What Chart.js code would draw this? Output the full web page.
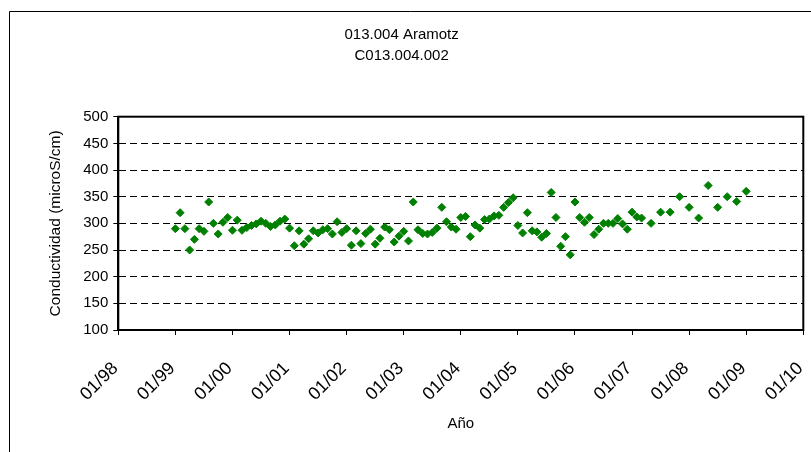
<!DOCTYPE html>
<html><head><meta charset="utf-8">
<script src="https://cdn.jsdelivr.net/npm/chart.js@4/dist/chart.umd.min.js"></script>
<style>html,body{margin:0;padding:0;background:#fff;} canvas{display:block;}</style>
</head><body>
<canvas id="c" width="811" height="452"></canvas>
<script>
const titulo = ['013.004 Aramotz', 'C013.004.002'];
const tituloY = 'Conductividad (microS/cm)';
const tituloX = 'Año';
const etiquetasX = ['01/98','01/99','01/00','01/01','01/02','01/03','01/04','01/05','01/06','01/07','01/08','01/09','01/10'];
const fechas = [
 '01/1999','02/1999','03/1999','04/1999','05/1999','06/1999','07/1999','08/1999','09/1999','10/1999','11/1999','12/1999',
 '01/2000','02/2000','03/2000','04/2000','05/2000','06/2000','07/2000','08/2000','09/2000','10/2000','11/2000','12/2000',
 '01/2001','02/2001','03/2001','04/2001','05/2001','06/2001','07/2001','08/2001','09/2001','10/2001','11/2001','12/2001',
 '01/2002','02/2002','03/2002','04/2002','05/2002','06/2002','07/2002','08/2002','09/2002','10/2002','11/2002','12/2002',
 '01/2003','02/2003','03/2003','04/2003','05/2003','06/2003','07/2003','08/2003','09/2003','10/2003','11/2003','12/2003',
 '01/2004','02/2004','03/2004','04/2004','05/2004','06/2004','07/2004','08/2004','09/2004','10/2004','11/2004','12/2004',
 '01/2005','02/2005','03/2005','04/2005','05/2005','06/2005','07/2005','08/2005','09/2005','10/2005','11/2005','12/2005',
 '01/2006','02/2006','03/2006','04/2006','05/2006','06/2006','07/2006','08/2006','09/2006','10/2006','11/2006','12/2006',
 '01/2007','02/2007','03/2007','05/2007','07/2007','09/2007','11/2007',
 '01/2008','03/2008','05/2008','07/2008','09/2008','11/2008',
 '01/2009'
];
const conductividad = [
 290,320,290,250,270,290,285,340,300,280,302,311,
 287,306,287,292,296,299,304,300,294,297,304,308,
 291,258,286,261,271,286,282,288,290,280,303,283,
 290,259,286,262,281,289,261,272,293,288,265,276,
 285,267,340,288,281,280,283,291,330,303,293,289,
 311,313,275,297,291,307,308,314,315,330,339,348,
 296,282,320,286,284,274,281,358,311,257,275,241,
 340,311,302,311,279,289,300,300,300,309,299,289,
 321,312,310,300,321,321,350,
 330,310,371,330,350,341,
 360
];

const puntos = fechas.map((f, i) => {
  const [mm, yy] = f.split('/');
  return { x: Number(yy) + (Number(mm) - 1) / 12, y: conductividad[i] };
});

Chart.defaults.font.family = "'Liberation Sans', Arial, sans-serif";
Chart.defaults.color = '#000';

const marco = {
  id: 'marco',
  afterDraw(chart) {
    const { ctx, chartArea: a } = chart;
    ctx.save();
    ctx.strokeStyle = '#000';
    ctx.lineWidth = 2;
    ctx.strokeRect(a.left, a.top, a.right - a.left, a.bottom - a.top);
    ctx.lineWidth = 1;
    ctx.beginPath();
    ctx.moveTo(9.5, chart.height);
    ctx.lineTo(9.5, 11.5);
    ctx.lineTo(chart.width, 11.5);
    ctx.stroke();
    ctx.restore();
  }
};

new Chart(document.getElementById('c'), {
  type: 'scatter',
  data: {
    datasets: [{
      data: puntos,
      pointStyle: 'rectRot',
      pointRadius: 4,
      pointHoverRadius: 4,
      backgroundColor: '#008000',
      borderColor: '#008000',
      borderWidth: 1
    }]
  },
  options: {
    responsive: false,
    animation: false,
    devicePixelRatio: 1,
    layout: { padding: { left: 0, right: 7.7, top: 0, bottom: 0 } },
    plugins: {
      legend: { display: false },
      tooltip: { enabled: false },
      title: {
        display: true,
        text: titulo,
        color: '#000',
        font: { size: 15, weight: 'normal', lineHeight: 1.4 },
        padding: { top: 24, bottom: 50.7 }
      }
    },
    scales: {
      x: {
        type: 'linear',
        min: 1998,
        max: 2010,
        ticks: {
          stepSize: 1,
          autoSkip: false,
          maxRotation: 45,
          minRotation: 45,
          padding: 23,
          labelOffset: -3,
          color: '#000',
          font: { size: 18 },
          callback: v => etiquetasX[Math.round(v - 1998)]
        },
        grid: { display: true, drawOnChartArea: false, drawTicks: true, tickLength: 5, tickColor: '#000', tickWidth: 1 },
        border: { display: true, color: '#000', width: 2 },
        title: { display: true, text: tituloX, color: '#000', font: { size: 15 }, padding: { top: 0, bottom: 19.5 } },
        afterFit: s => { s.height = 122; s.paddingLeft = 0; s.paddingRight = 0; }
      },
      y: {
        min: 100,
        max: 500,
        ticks: { stepSize: 50, padding: 5, color: '#000', font: { size: 15 } },
        grid: {
          color: c => (c.tick && (c.tick.value === 100 || c.tick.value === 500)) ? 'rgba(0,0,0,0)' : '#000',
          lineWidth: 1,
          tickLength: 5,
          tickColor: '#000',
          tickWidth: 1,
          tickBorderDash: []
        },
        border: { display: true, color: '#000', width: 2, dash: [7, 4] },
        title: { display: true, text: tituloY, color: '#000', font: { size: 15.5 }, padding: { top: 46.7, bottom: 0 } },
        afterFit: s => { s.width = 118.3; }
      }
    }
  },
  plugins: [marco]
});
</script>
</body></html>
